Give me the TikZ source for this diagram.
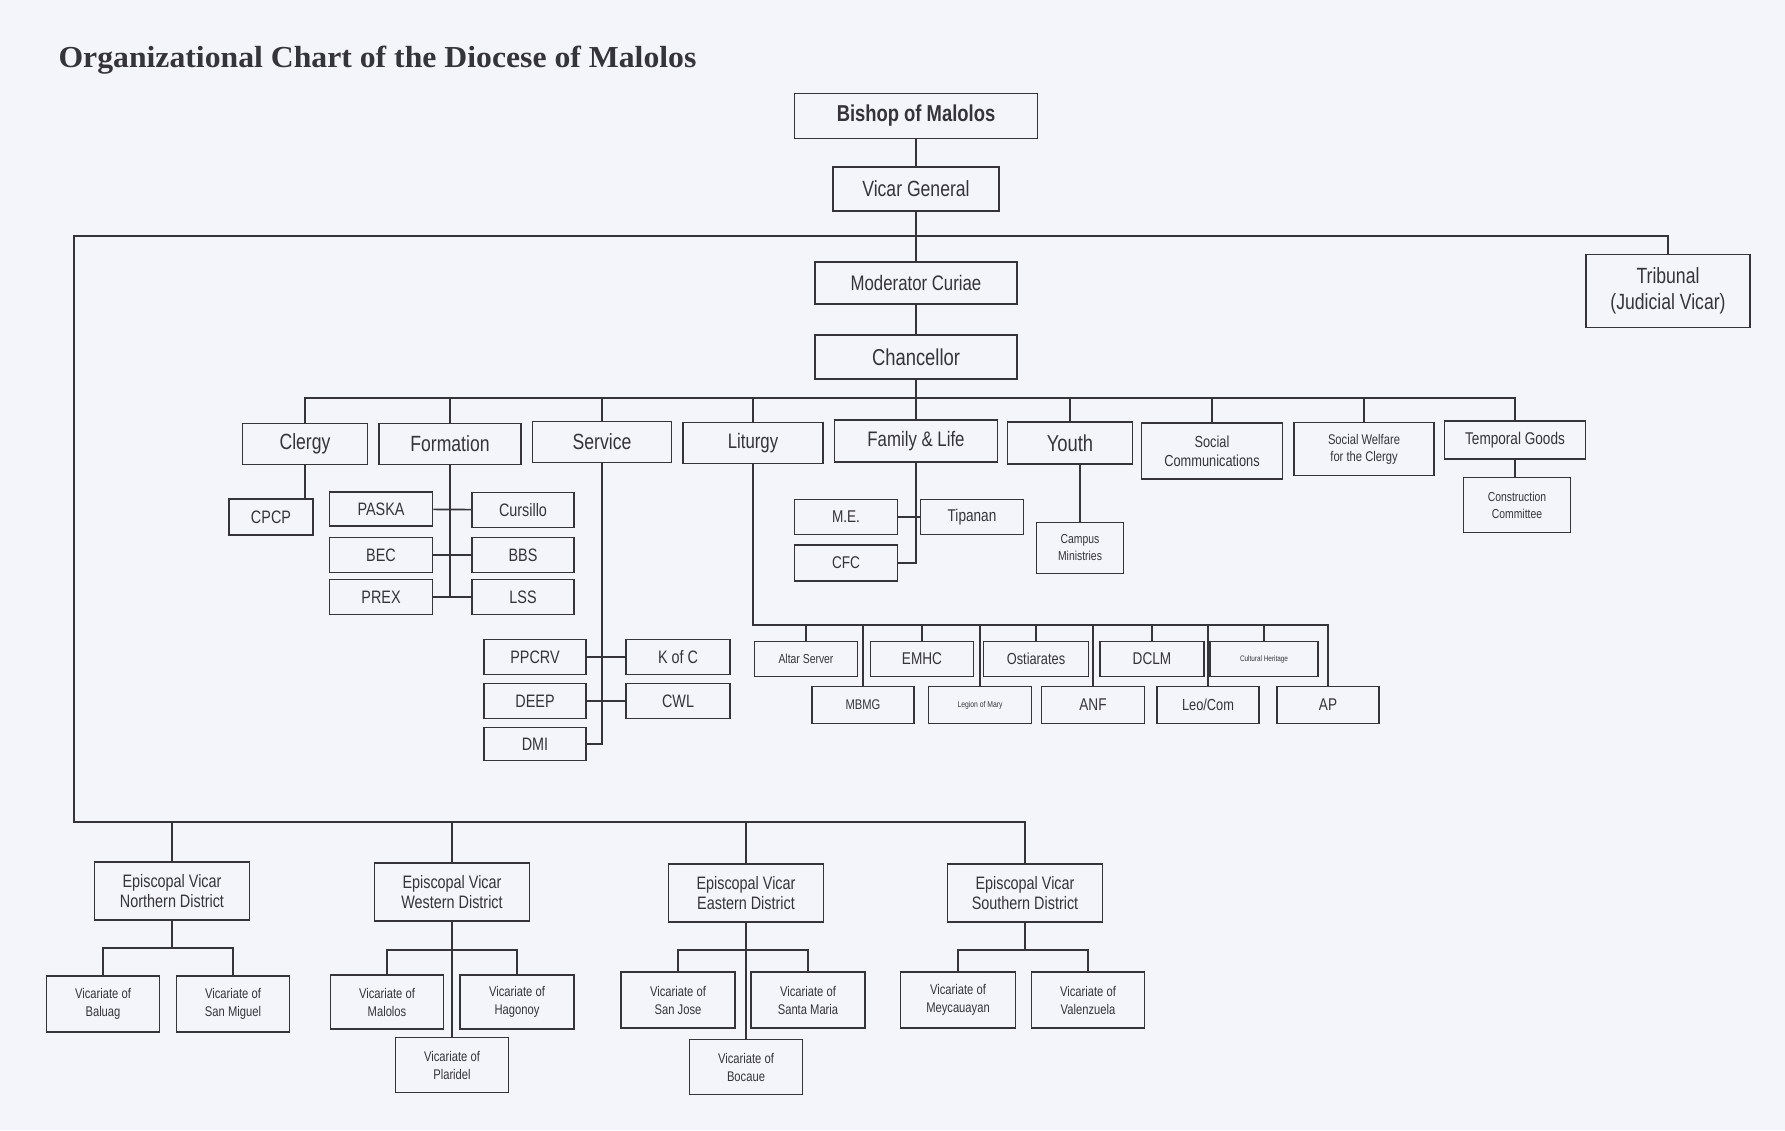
\documentclass[tikz,border=0pt]{standalone}
\usepackage{fontspec}
\setmainfont{Liberation Sans}[FakeStretch=0.8]
\newfontfamily\titlefont{Liberation Serif}[FakeStretch=1.04]
\definecolor{paper}{RGB}{243,245,250}
\definecolor{ink}{RGB}{52,52,58}
\tikzset{
  box/.style={draw=ink, line width=1.7pt, text=ink, align=center, inner sep=1pt},
  bx/.style 2 args={box, minimum width=#1pt, minimum height=#2pt},
  fs/.style 2 args={font=\fontsize{#1}{#2}\selectfont},
  link/.style={draw=ink, line width=1.7pt},
}
\begin{document}
\begin{tikzpicture}[x=1pt,y=-1pt]
  \fill[paper] (0,0) rectangle (1785,1130);
  \useasboundingbox (0,0) rectangle (1785,1130);

  \node[anchor=west, text=ink, font=\titlefont\bfseries\fontsize{30.5}{32}\selectfont] (title) at (55,60) {Organizational Chart of the Diocese of Malolos};

  \node[bx={243}{45}, fs={23}{24}] (bishop) at (916,116) {\bfseries Bishop of Malolos};
  \node[bx={166}{44}, fs={22}{24}] (vicgen) at (916,189) {Vicar General};
  \node[bx={202}{42}, fs={21}{24}] (modcur) at (916,283) {Moderator Curiae};
  \node[bx={202}{44}, fs={23}{24}] (chanc) at (916,357) {Chancellor};
  \node[bx={164}{73}, fs={22}{26}] (tribunal) at (1668,291) {Tribunal\\(Judicial Vicar)};

  \node[bx={125}{41}, fs={22}{24}] (clergy) at (305,444) {Clergy};
  \node[bx={142}{41}, fs={22}{24}] (formation) at (450,444) {Formation};
  \node[bx={139}{41}, fs={22}{24}] (service) at (602,442) {Service};
  \node[bx={140}{41}, fs={21}{24}] (liturgy) at (753,443) {Liturgy};
  \node[bx={163}{42}, fs={21}{24}] (family) at (916,441) {Family \& Life};
  \node[bx={125}{42}, fs={23}{24}] (youth) at (1070,443) {Youth};
  \node[bx={141}{56}, fs={16}{19}] (socom) at (1212,451) {Social\\Communications};
  \node[bx={140}{53}, fs={14}{17}] (socwel) at (1364,449) {Social Welfare\\for the Clergy};
  \node[bx={141}{38}, fs={17}{19}] (temporal) at (1515,440) {Temporal Goods};

  \node[bx={84}{36}, fs={18}{20}] (cpcp) at (271,517) {CPCP};
  \node[bx={103}{34}, fs={18}{20}] (paska) at (381,509) {PASKA};
  \node[bx={102}{35}, fs={18}{20}] (cursillo) at (523,510) {Cursillo};
  \node[bx={103}{35}, fs={18}{20}] (bec) at (381,555) {BEC};
  \node[bx={102}{35}, fs={18}{20}] (bbs) at (523,555) {BBS};
  \node[bx={103}{35}, fs={18}{20}] (prex) at (381,597) {PREX};
  \node[bx={102}{35}, fs={18}{20}] (lss) at (523,597) {LSS};

  \node[bx={102}{35}, fs={18}{20}] (ppcrv) at (535,657) {PPCRV};
  \node[bx={104}{35}, fs={18}{20}] (kofc) at (678,657) {K of C};
  \node[bx={102}{35}, fs={18}{20}] (deep) at (535,701) {DEEP};
  \node[bx={104}{35}, fs={18}{20}] (cwl) at (678,701) {CWL};
  \node[bx={102}{33}, fs={18}{20}] (dmi) at (535,744) {DMI};

  \node[bx={103}{35}, fs={17}{20}] (me) at (846,517) {M.E.};
  \node[bx={103}{35}, fs={17}{20}] (tipanan) at (972,517) {Tipanan};
  \node[bx={103}{36}, fs={17}{20}] (cfc) at (846,563) {CFC};
  \node[bx={87}{51}, fs={13}{17}] (campus) at (1080,548) {Campus\\Ministries};
  \node[bx={107}{55}, fs={13}{17}] (constr) at (1517,505) {Construction\\Committee};

  \node[bx={103}{35}, fs={13}{16}] (altar) at (806,659) {Altar Server};
  \node[bx={103}{35}, fs={17}{20}] (emhc) at (922,659) {EMHC};
  \node[bx={105}{35}, fs={16}{20}] (ostiar) at (1036,659) {Ostiarates};
  \node[bx={104}{35}, fs={17}{20}] (dclm) at (1152,659) {DCLM};
  \node[bx={108}{35}, fs={8}{10}] (cultural) at (1264,659) {Cultural Heritage};
  \node[bx={102}{37}, fs={14}{18}] (mbmg) at (863,705) {MBMG};
  \node[bx={103}{37}, fs={8.5}{10}] (legion) at (980,705) {Legion of Mary};
  \node[bx={103}{37}, fs={17}{20}] (anf) at (1093,705) {ANF};
  \node[bx={102}{37}, fs={16}{20}] (leocom) at (1208,705) {Leo/Com};
  \node[bx={102}{37}, fs={17}{20}] (ap) at (1328,705) {AP};

  \node[bx={155}{58}, fs={18}{20.5}] (evnorth) at (172,891) {Episcopal Vicar\\Northern District};
  \node[bx={155}{58}, fs={18}{20.5}] (evwest) at (452,892) {Episcopal Vicar\\Western District};
  \node[bx={155}{58}, fs={18}{20.5}] (eveast) at (746,893) {Episcopal Vicar\\Eastern District};
  \node[bx={155}{58}, fs={18}{20.5}] (evsouth) at (1025,893) {Episcopal Vicar\\Southern District};

  \node[bx={113}{56}, fs={14}{18}] (baluag) at (103,1004) {Vicariate of\\Baluag};
  \node[bx={113}{56}, fs={14}{18}] (sanmiguel) at (233,1004) {Vicariate of\\San Miguel};
  \node[bx={113}{54}, fs={14}{18}] (malolos) at (387,1002) {Vicariate of\\Malolos};
  \node[bx={114}{54}, fs={14}{18}] (hagonoy) at (517,1002) {Vicariate of\\Hagonoy};
  \node[bx={113}{55}, fs={14}{18}] (plaridel) at (452,1065) {Vicariate of\\Plaridel};
  \node[bx={114}{56}, fs={14}{18}] (sanjose) at (678,1000) {Vicariate of\\San Jose};
  \node[bx={114}{56}, fs={14}{18}] (stamaria) at (808,1000) {Vicariate of\\Santa Maria};
  \node[bx={113}{55}, fs={14}{18}] (bocaue) at (746,1067) {Vicariate of\\Bocaue};
  \node[bx={115}{56}, fs={14}{18}] (meycauayan) at (958,1000) {Vicariate of\\Meycauayan};
  \node[bx={113}{56}, fs={14}{18}] (valenzuela) at (1088,1000) {Vicariate of\\Valenzuela};

  \coordinate (leftup) at (74,236);
  \coordinate (leftdown) at (74,822);
  \coordinate (depts) at (916,398);
  \coordinate (litbar) at (753,625);
  \coordinate (nbar) at (172,948);
  \coordinate (wbar) at (452,950);
  \coordinate (ebar) at (746,950);
  \coordinate (sbar) at (1025,950);

  \draw[link] (bishop) -- (vicgen);
  \draw[link] (vicgen) -- (modcur);
  \draw[link] (modcur) -- (chanc);
  \draw[link] (chanc) -- (family);
  \draw[link] (tribunal.north) |- (leftup) -- (leftdown) -| (evsouth.north);
  \foreach \n in {evnorth,evwest,eveast}
    \draw[link] (\n.north) -- (\n.north |- leftdown);

  \draw[link] (clergy.north) |- (depts) -| (temporal.north);
  \foreach \n in {formation,service,liturgy,youth,socom,socwel}
    \draw[link] (\n.north) -- (\n.north |- depts);

  \draw[link] (clergy.south) -- (clergy.south |- cpcp.north);
  \draw[link] (formation.south) -- (formation.south |- prex.east);
  \draw[link] (paska) -- (cursillo);
  \draw[link] (bec) -- (bbs);
  \draw[link] (prex) -- (lss);
  \draw[link] (service.south) |- (dmi.east);
  \draw[link] (ppcrv) -- (kofc);
  \draw[link] (deep) -- (cwl);
  \draw[link] (family.south) |- (cfc.east);
  \draw[link] (me) -- (tipanan);
  \draw[link] (campus.north |- youth.south) -- (campus.north);
  \draw[link] (temporal.south) -- (temporal.south |- constr.north);

  \draw[link] (liturgy.south) -- (litbar) -| (ap.north);
  \foreach \n in {altar,emhc,ostiar,dclm,cultural,mbmg,legion,anf,leocom}
    \draw[link] (\n.north) -- (\n.north |- litbar);

  \draw[link] (evnorth) -- (nbar);
  \draw[link] (baluag.north) |- (nbar) -| (sanmiguel.north);
  \draw[link] (evwest) -- (plaridel);
  \draw[link] (malolos.north) |- (wbar) -| (hagonoy.north);
  \draw[link] (eveast) -- (bocaue);
  \draw[link] (sanjose.north) |- (ebar) -| (stamaria.north);
  \draw[link] (evsouth) -- (sbar);
  \draw[link] (meycauayan.north) |- (sbar) -| (valenzuela.north);
\end{tikzpicture}
\end{document}
